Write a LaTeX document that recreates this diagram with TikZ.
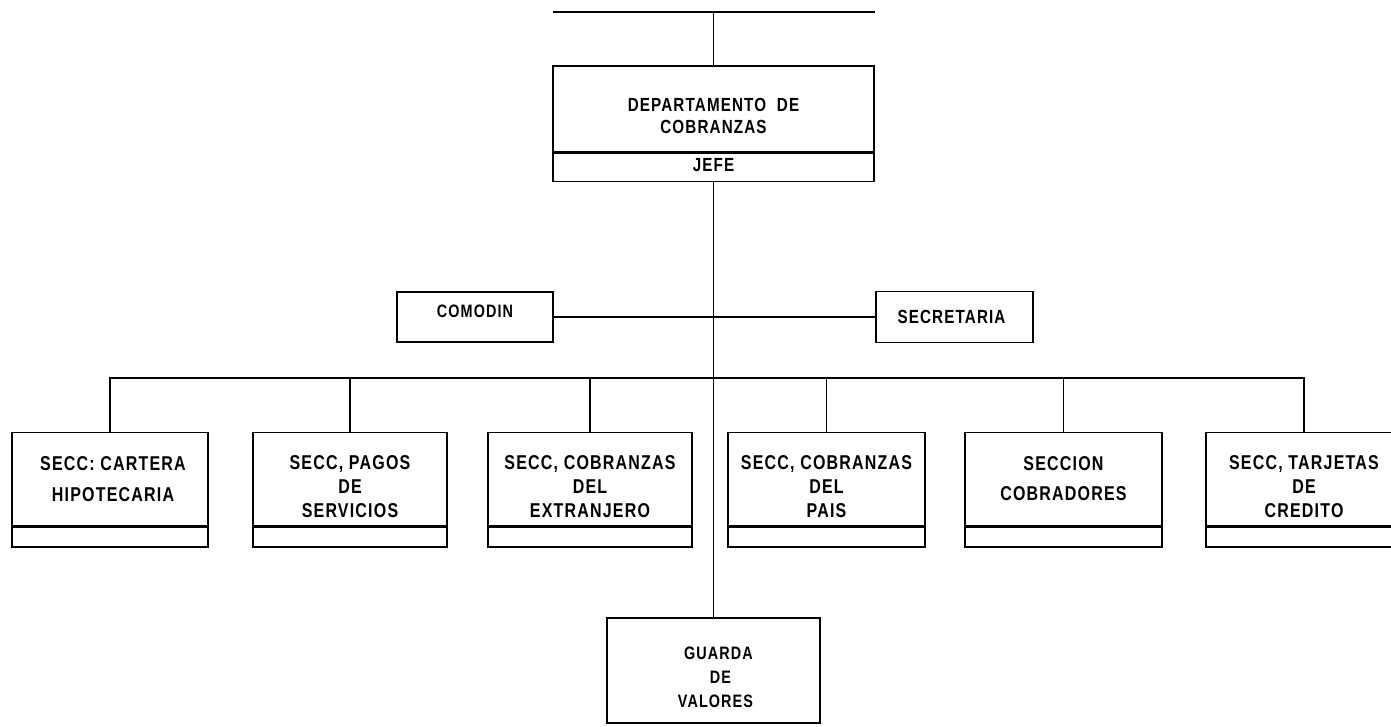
\documentclass[tikz,border=0pt]{standalone}
\usepackage{fontspec}
\setmainfont{Liberation Sans}[FakeStretch=0.8,LetterSpace=6]
% #1: height of an invisible strut in the first row (pushes the text down)
\newcommand{\lines}[2]{\begin{tabular}{@{}c@{}}\rule{0pt}{#1}#2\end{tabular}}
\begin{document}
\begin{tikzpicture}[x=1pt,y=-1pt,line width=1.6pt,
  box/.style={draw,line width=1.6pt,rectangle,inner sep=0pt,align=center,
     font=\fontsize{20}{24}\selectfont\bfseries},
  strip/.style={draw,line width=1.6pt,rectangle,inner sep=0pt,align=center,
     font=\fontsize{19}{24}\selectfont\bfseries},
  big/.style={box,font=\fontsize{19}{22}\selectfont\bfseries}
]
\useasboundingbox (0,0) rectangle (1391,726);
\begin{scope}
\clip (0,0) rectangle (1391,726);
% top
\node[big,minimum width=321pt,minimum height=86pt] (dep) at (713.5,109) {\lines{34pt}{DEPARTAMENTO\ \ DE\\COBRANZAS}};
\node[strip,minimum width=321pt,minimum height=28pt,anchor=north] (jefe) at (dep.south) {\rule[-6pt]{0pt}{6pt}JEFE};
\coordinate (topL) at (553,12);
\coordinate (topR) at (875,12);
\draw (topL) -- (topR);
\draw (dep.north) -- (dep.north |- topL);
% staff
\node[box,font=\fontsize{18}{24}\selectfont\bfseries,minimum width=156pt,minimum height=50pt] (com) at (475,317) {\rule[-12pt]{0pt}{12pt}COMODIN};
\node[box,font=\fontsize{19}{24}\selectfont\bfseries,minimum width=157pt,minimum height=51pt] (sec) at (954.5,317) {\hspace*{-6pt}SECRETARIA};
\draw (com.east) -- (sec.west);
% bottom
\node[box,font=\fontsize{18}{24}\selectfont\bfseries,minimum width=213pt,minimum height=105pt] (gua) at (713.5,670.5) {\lines{33pt}{\hspace*{10pt}GUARDA\\\hspace*{14pt}DE\\\hspace*{4pt}VALORES}};
\draw (jefe.south) -- (jefe.south |- gua.north);
% sections
\coordinate (bus) at (0,378);
\node[box,minimum width=196pt,minimum height=93pt] (b1) at (110,479) {\hspace*{6pt}SECC: CARTERA\\[7pt]\hspace*{6pt}HIPOTECARIA};
\node[box,minimum width=194pt,minimum height=93pt] (b2) at (350,479) {\lines{36.5pt}{SECC, PAGOS\\DE\\SERVICIOS}};
\node[box,minimum width=204pt,minimum height=93pt] (b3) at (590,479) {\lines{36.5pt}{SECC, COBRANZAS\\DEL\\EXTRANJERO}};
\node[box,minimum width=197pt,minimum height=93pt] (b4) at (826.5,479) {\lines{36.5pt}{SECC, COBRANZAS\\DEL\\PAIS}};
\node[box,minimum width=197pt,minimum height=93pt] (b5) at (1063.5,479) {SECCION\\[6pt]COBRADORES};
\node[box,minimum width=196pt,minimum height=93pt] (b6) at (1304,479) {\lines{36.5pt}{SECC, TARJETAS\\DE\\CREDITO}};
\foreach \b/\w in {b1/196,b2/194,b3/204,b4/197,b5/197,b6/196}{
  \node[strip,minimum width=\w pt,minimum height=20pt,anchor=north] (\b s) at (\b.south) {};
}
\draw (b1.north) |- (b6.north |- bus) -- (b6.north);
\foreach \b in {b2,b3,b4,b5}{
  \draw (\b.north) -- (\b.north |- bus);
}
\end{scope}
\end{tikzpicture}
\end{document}
